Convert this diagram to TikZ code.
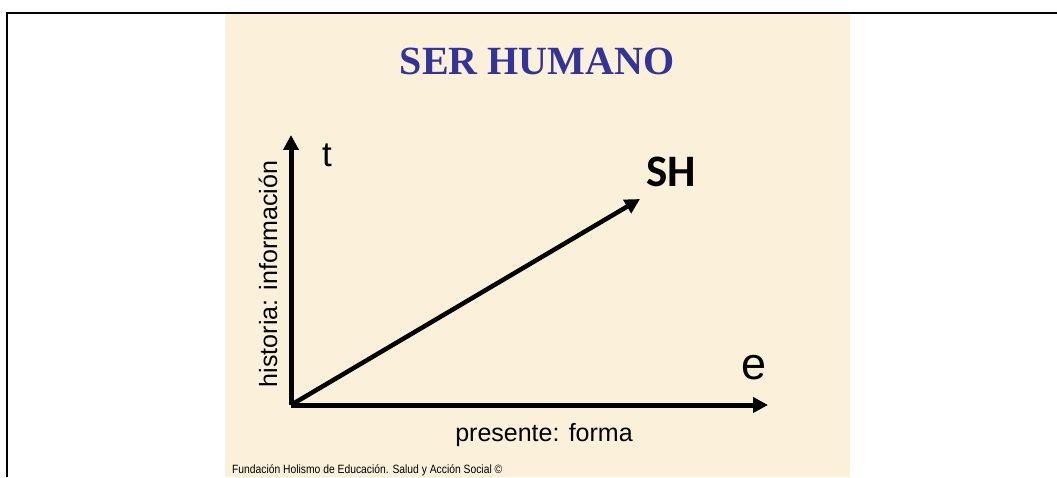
\documentclass[tikz,border=0pt]{standalone}
\usepackage{fontspec}
\setmainfont{Liberation Serif}
\setsansfont{Liberation Sans}
\newfontfamily\carlito{Carlito}
\usetikzlibrary{arrows.meta}
\definecolor{slidebg}{RGB}{251,241,218}
\definecolor{titleblue}{RGB}{51,51,153}
\tikzset{
  axisline/.style={line width=5pt,-{Triangle[length=15pt,width=15pt]}},
  diagline/.style={line width=4.5pt,-{Triangle[length=15pt,width=15pt]}},
  lbl/.style={inner sep=0pt,font=\sffamily},
}
\begin{document}
\begin{tikzpicture}[x=1pt,y=1pt]
\useasboundingbox (0,0) rectangle (1057,477);
% slide background
\fill[slidebg] (225,0) rectangle (850,463);
% outer frame
\draw[line width=2.5pt] (7,0) -- (7,464) -- (1057,464);
% title
\node[inner sep=0pt,anchor=base,font=\fontsize{40}{41}\selectfont\bfseries,text=titleblue] (title) at (537,402) {SER HUMANO};
% axes
\coordinate (O) at (291,72);
\coordinate (T) at (291,342);
\coordinate (E) at (768,72);
\coordinate (D) at (640,278);
\draw[axisline] (O) -- (T);
\draw[axisline] (O) -- (E);
\draw[diagline] (O) -- (D);
% labels
\node[lbl,anchor=base west,font=\sffamily\fontsize{35}{36}\selectfont] (tl) at (322,310) {t};
\node[lbl,anchor=base west,font=\carlito\bfseries\fontsize{45}{46}\selectfont] (sh) at (646,290) {SH};
\node[lbl,anchor=base west,font=\sffamily\fontsize{45}{46}\selectfont] (el) at (741,98) {e};
\node[lbl,anchor=base,font=\sffamily\fontsize{25}{26}\selectfont] (pf) at (544,36) {presente: forma};
\node[lbl,anchor=base,rotate=90,font=\sffamily\fontsize{25}{26}\selectfont] (hi) at (277,203) {historia: información};
\node[lbl,anchor=base west,font=\sffamily\fontsize{12}{13}\selectfont,xscale=0.86] (ft) at (232,4) {Fundación Holismo de Educación. Salud y Acción Social ©};
\end{tikzpicture}
\end{document}
